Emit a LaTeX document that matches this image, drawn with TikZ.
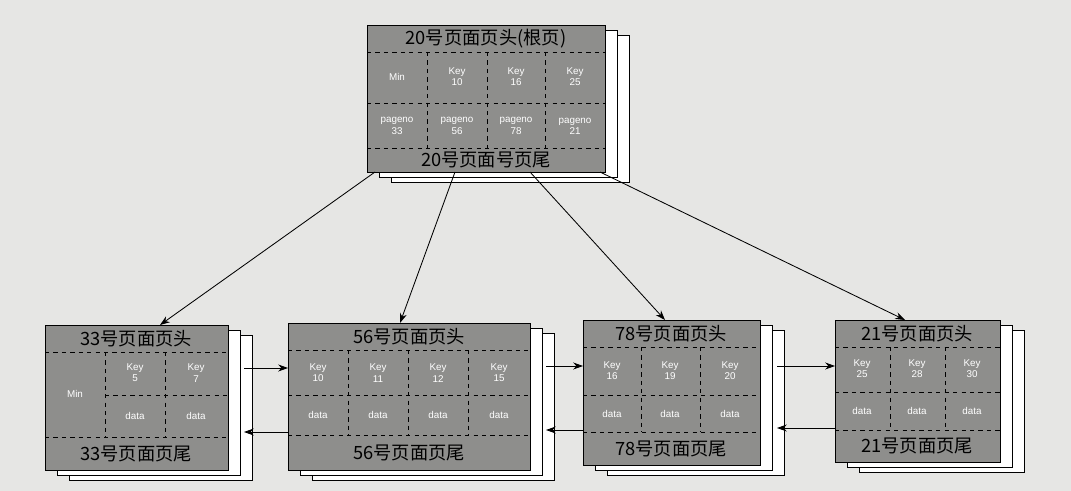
\documentclass[tikz,border=0pt]{standalone}
\usepackage{fontspec}
\setmainfont{Liberation Sans}
\newfontfamily\cjk{Noto Sans CJK SC}
\usetikzlibrary{arrows.meta,calc}
\definecolor{paper}{HTML}{E6E6E4}
\definecolor{pagefill}{HTML}{8E8E8C}
\tikzset{
 back/.style={draw=black,fill=white,line width=0.6pt},
 page/.style={draw=black,fill=pagefill,line width=0.8pt,inner sep=0pt},
 dl/.style={dashed,line width=0.6pt},
 hd/.style={font=\cjk\fontsize{13}{14}\selectfont,inner sep=0pt},
 cell/.style={font=\fontsize{7}{8}\selectfont,text=white,align=center,inner sep=0pt},
 arr/.style={-{Stealth[length=7pt,width=5pt]},line width=0.6pt}
}
\newcommand\pg[5]{%
 \draw[back] (#2+24,#3+10) rectangle ++(#4,#5);
 \draw[back] (#2+12,#3+5) rectangle ++(#4,#5);
 \node[page,minimum width={#4*0.025cm},minimum height={#5*0.025cm},anchor=north west] (#1) at (#2,#3) {};}
\begin{document}
\begin{tikzpicture}[x=0.025cm,y=-0.025cm]
\fill[paper] (0,0) rectangle (1071,491);
\useasboundingbox (0,0) rectangle (1071,491);
% root
\pg{root}{367}{25}{238}{147}
\foreach \y in {52,103,148} \draw[dl] (367,\y) -- (605,\y);
\foreach \x in {427,487,545} \draw[dl] (\x,52) -- (\x,148);
\node[hd] (rh) at (486,39) {20号页面页头(根页)};
\node[hd] (rf) at (486,160) {20号页面号页尾};
\node[cell] (r1) at (397,77) {Min};
\node[cell] (r2) at (457,77) {Key\\10};
\node[cell] (r3) at (516,77) {Key\\16};
\node[cell] (r4) at (575,77) {Key\\25};
\node[cell] (r5) at (397,126) {pageno\\33};
\node[cell] (r6) at (457,126) {pageno\\56};
\node[cell] (r7) at (516,126) {pageno\\78};
\node[cell] (r8) at (575,126) {pageno\\21};
% leaf 1
\pg{l1}{45}{325}{183}{145}
\foreach \y in {352,437} \draw[dl] (45,\y) -- (228,\y);
\draw[dl] (105,395) -- (228,395);
\foreach \x in {105,165} \draw[dl] (\x,352) -- (\x,437);
\node[hd] (h1) at (136,339) {33号页面页头};
\node[hd] (f1) at (136,454) {33号页面页尾};
\node[cell] (a1) at (75,394) {Min};
\node[cell] (a2) at (135,373) {Key\\5};
\node[cell] (a3) at (196,373) {Key\\7};
\node[cell] (a4) at (135,416) {data};
\node[cell] (a5) at (196,416) {data};
% leaf 2
\pg{l2}{288}{323}{242}{147}
\foreach \y in {350,395,435} \draw[dl] (288,\y) -- (530,\y);
\foreach \x in {348,408,468} \draw[dl] (\x,350) -- (\x,435);
\node[hd] (h2) at (409,337) {56号页面页头};
\node[hd] (f2) at (409,453) {56号页面页尾};
\node[cell] (b1) at (318,373) {Key\\10};
\node[cell] (b2) at (378,373) {Key\\11};
\node[cell] (b3) at (438,373) {Key\\12};
\node[cell] (b4) at (499,373) {Key\\15};
\foreach \x/\n in {318/c1,378/c2,438/c3,499/c4} \node[cell] (\n) at (\x,415) {data};
% leaf 3
\pg{l3}{583}{320}{177}{145}
\foreach \y in {347,395,432} \draw[dl] (583,\y) -- (760,\y);
\foreach \x in {641,700} \draw[dl] (\x,347) -- (\x,432);
\node[hd] (h3) at (671,334) {78号页面页头};
\node[hd] (f3) at (671,449) {78号页面页尾};
\node[cell] (d1) at (612,371) {Key\\16};
\node[cell] (d2) at (670,371) {Key\\19};
\node[cell] (d3) at (730,371) {Key\\20};
\foreach \x/\n in {612/e1,670/e2,730/e3} \node[cell] (\n) at (\x,414) {data};
% leaf 4
\pg{l4}{835}{320}{165}{142}
\foreach \y in {347,392,430} \draw[dl] (835,\y) -- (1000,\y);
\foreach \x in {890,945} \draw[dl] (\x,347) -- (\x,430);
\node[hd] (h4) at (917,334) {21号页面页头};
\node[hd] (f4) at (917,446) {21号页面页尾};
\node[cell] (g1) at (862,369) {Key\\25};
\node[cell] (g2) at (917,369) {Key\\28};
\node[cell] (g3) at (972,369) {Key\\30};
\foreach \x/\n in {862/k1,917/k2,972/k3} \node[cell] (\n) at (\x,411) {data};
% tree arrows
\coordinate (s1) at (375,172); \coordinate (s2) at (455,172);
\coordinate (s3) at (530,172); \coordinate (s4) at (600,172);
\draw[arr] (s1) -- (l1.north -| 160,0);
\draw[arr] (s2) -- (l2.north -| 400,0);
\draw[arr] (s3) -- (l3.north -| 665,0);
\draw[arr] (s4) -- (l4.north -| 905,0);
% sibling arrows
\coordinate (p1) at (244,368); \draw[arr] (p1) -- (l2.west |- p1);
\coordinate (q1) at (244,432); \draw[arr] (l2.west |- q1) -- (q1);
\coordinate (p2) at (546,366); \draw[arr] (p2) -- (l3.west |- p2);
\coordinate (q2) at (546,430); \draw[arr] (l3.west |- q2) -- (q2);
\coordinate (p3) at (777,366); \draw[arr] (p3) -- (l4.west |- p3);
\coordinate (q3) at (777,428); \draw[arr] (l4.west |- q3) -- (q3);
\end{tikzpicture}
\end{document}
